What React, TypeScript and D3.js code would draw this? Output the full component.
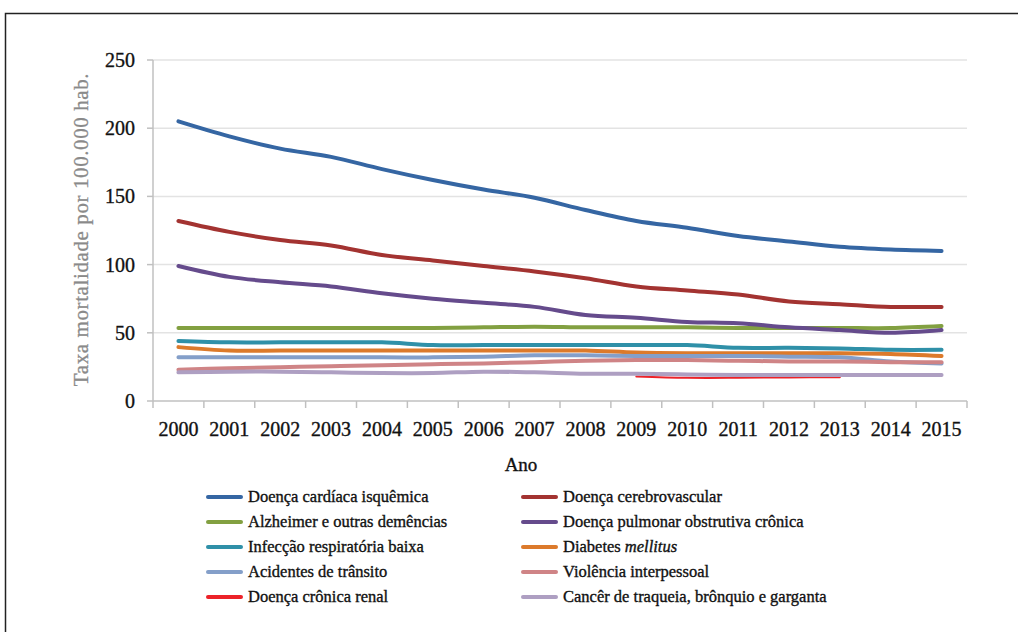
import React, { useEffect } from "react";
import * as d3 from "d3";

const years = ["2000", "2001", "2002", "2003", "2004", "2005", "2006", "2007", "2008", "2009", "2010", "2011", "2012", "2013", "2014", "2015"];
const yTicks = [0, 50, 100, 150, 200, 250];

const cardiaca = [205, 194, 185, 179, 170, 162, 155, 149, 140, 132, 127, 121, 117, 113, 111, 110];
const cerebro = [132, 124, 118, 114, 107, 103, 99, 95, 90, 84, 81, 78, 73, 71, 69, 69];
const alzheimer = [53.5, 53.5, 53.5, 53.5, 53.5, 53.5, 54, 54.5, 54, 54, 54, 53.5, 53.5, 53.5, 53.5, 55];
const dpoc = [99, 91, 87, 84, 79, 75, 72, 69, 63, 61, 58, 57, 54, 52, 50, 52];
const infeccao = [44, 43, 43, 43, 43, 41, 41, 41, 41, 41, 41, 39, 39, 38.5, 37.5, 37.5];
const diabetes = [39.5, 37, 37, 37, 37, 37, 37, 37, 37, 35.5, 35, 35, 35, 35, 34.5, 33];
const transito = [32, 32, 32, 32, 32, 32, 32.5, 33.5, 33.5, 33, 33, 33, 32.5, 32, 29, 27.5];
const violencia = [23, 24, 24.8, 25.5, 26.2, 27, 27.5, 28.5, 29.5, 30, 30, 29.5, 29, 29, 28.5, 28.5];
const renal = [null, null, null, null, null, null, null, null, null, 18, 17, 17, 17.3, 17.5, null, null];
const cancer = [21, 21.5, 21.5, 21, 20.5, 20.5, 21.5, 21, 20, 20, 19.5, 19, 19, 19, 19, 19];

const series = [
  { name: "Doença cardíaca isquêmica", values: cardiaca, color: "#3566a3", w: 4 },
  { name: "Doença cerebrovascular", values: cerebro, color: "#a33331", w: 4 },
  { name: "Alzheimer e outras demências", values: alzheimer, color: "#82a041", w: 4 },
  { name: "Doença pulmonar obstrutiva crônica", values: dpoc, color: "#654b8c", w: 4 },
  { name: "Infecção respiratória baixa", values: infeccao, color: "#2f90a8", w: 4 },
  { name: "Diabetes", italic: "mellitus", values: diabetes, color: "#dc7a2b", w: 4 },
  { name: "Acidentes de trânsito", values: transito, color: "#849fc9", w: 4 },
  { name: "Violência interpessoal", values: violencia, color: "#cf8486", w: 4 },
  { name: "Doença crônica renal", values: renal, color: "#ec2229", w: 2 },
  { name: "Cancêr de traqueia, brônquio e garganta", values: cancer, color: "#ae9fc2", w: 4 },
];

const W = 1018, H = 632;
const left = 153, right = 967, top = 60, bottom = 401;
const font = "'Liberation Serif', serif";

export default function App() {
  useEffect(() => { document.body.style.margin = "0"; }, []);

  const x = d3.scaleBand().domain(years).range([left, right]);
  const y = d3.scaleLinear().domain([0, 250]).range([bottom, top]);
  const cx = (i: number) => (x(years[i]) as number) + x.bandwidth() / 2;

  const line = d3.line<number | null>()
    .defined((d) => d != null)
    .x((_, i) => cx(i))
    .y((d) => y(d as number))
    .curve(d3.curveCatmullRom.alpha(0.5));

  const boundaries = years.map((yr) => x(yr) as number).concat([right]);
  // Century-like texts look heavier than Liberation Serif, thicken a bit
  const heavy = { stroke: "#111", strokeWidth: 0.35 };

  return (
    <svg width={W} height={H} style={{ display: "block", background: "#fff" }} fontFamily={font}>
      {/* frame */}
      <path d={`M5.5,${H} V13.5 H${W}`} fill="none" stroke="#222" strokeWidth={1.5} />

      {/* gridlines */}
      {yTicks.filter((t) => t > 0).map((t) => (
        <line key={t} x1={left} x2={right} y1={y(t)} y2={y(t)} stroke="#e3e3e3" strokeWidth={1.5} />
      ))}

      {/* axes */}
      <line x1={left} x2={left} y1={top} y2={bottom} stroke="#c0c0c0" strokeWidth={1.5} />
      <line x1={left} x2={right} y1={bottom} y2={bottom} stroke="#c0c0c0" strokeWidth={1.5} />
      {yTicks.map((t) => (
        <g key={t}>
          <line x1={left - 6} x2={left} y1={y(t)} y2={y(t)} stroke="#c0c0c0" strokeWidth={1.5} />
          <text x={135} y={y(t)} dy="0.35em" textAnchor="end" fontSize={20} fill="#111" {...heavy}>{t}</text>
        </g>
      ))}
      {boundaries.map((bx, i) => (
        <line key={i} x1={bx} x2={bx} y1={bottom} y2={bottom + 7} stroke="#c0c0c0" strokeWidth={1.5} />
      ))}
      {years.map((yr, i) => (
        <text key={yr} x={cx(i)} y={436} textAnchor="middle" fontSize={20} fill="#111" {...heavy}>{yr}</text>
      ))}

      {/* axis titles */}
      <text x={521} y={471} textAnchor="middle" fontSize={19} fill="#111" {...heavy}>Ano</text>
      <text transform={`translate(88,${(top + bottom) / 2 - 1}) rotate(-90)`} textAnchor="middle"
        fontSize={21} letterSpacing={0.6} fill="#8a8a8a" stroke="#8a8a8a" strokeWidth={0.3}>
        Taxa mortalidade por 100.000 hab.
      </text>

      {/* lines */}
      {series.map((s) => (
        <path key={s.name} d={line(s.values) || ""} fill="none" stroke={s.color} strokeWidth={s.w}
          strokeLinecap="round" strokeLinejoin="round" />
      ))}

      {/* legend */}
      {series.map((s, i) => {
        const col = i % 2;
        const row = Math.floor(i / 2);
        const lx = col === 0 ? 208 : 523;
        const ly = 497 + row * 25;
        return (
          <g key={s.name}>
            <line x1={lx} x2={lx + 33} y1={ly} y2={ly} stroke={s.color} strokeWidth={4} strokeLinecap="round" />
            <text x={lx + 40} y={ly} dy="0.33em" fontSize={16.5} fill="#111" {...heavy}>
              {s.name}
              {s.italic ? <tspan fontStyle="italic">{" " + s.italic}</tspan> : null}
            </text>
          </g>
        );
      })}
    </svg>
  );
}
